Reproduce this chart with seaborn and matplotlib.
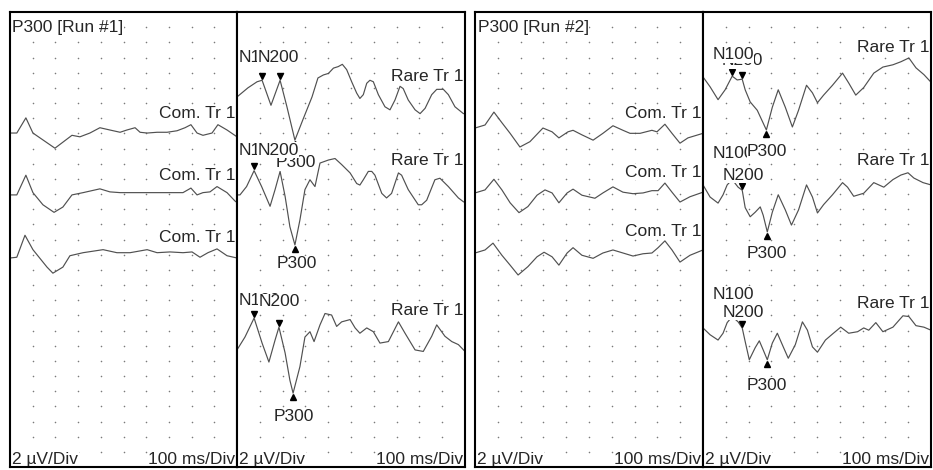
import numpy as np
import pandas as pd
import matplotlib
matplotlib.use("Agg")
import matplotlib.pyplot as plt
import seaborn as sns

# ---------------- data (time in ms, amplitude in µV; positive is drawn downward) -------------
# Run 1 - common (frequent) trials
r1_com1_t = [0, 30, 70, 101, 198, 273, 308, 352, 396, 440, 485, 515, 551, 573, 604, 648, 692, 736, 771, 797, 824, 850, 890, 916, 956, 1000]
r1_com1_v = [0, 0, -2.0, 0, 2.0, 0.3, 0.5, 0, -0.7, -0.4, -0.1, -0.4, -0.7, -0.1, 0, -0.1, -0.1, -0.3, -0.7, -1.1, 0, 0.3, 0, -1.1, -0.4, 0.5]
r1_com2_t = [0, 30, 70, 101, 145, 194, 233, 273, 322, 396, 440, 485, 542, 586, 648, 705, 762, 797, 824, 850, 881, 912, 956, 991, 1000]
r1_com2_v = [0, 0, -2.6, -0.3, 1.3, 2.3, 1.6, 0, -0.3, -0.8, -0.4, -0.3, -0.3, -0.3, -0.3, -0.3, -0.3, -0.9, 0, -0.3, -0.4, -1.1, -0.3, 0.8, 1.0]
r1_com3_t = [0, 30, 66, 101, 163, 189, 233, 264, 322, 410, 471, 529, 604, 648, 705, 762, 802, 837, 872, 912, 956, 1000]
r1_com3_v = [0.4, 0.3, -2.6, -0.7, 1.6, 2.4, 1.6, 0.1, -0.3, -0.7, -0.3, -0.3, -0.7, -0.3, -0.4, -0.3, -0.4, 0.3, -0.3, -0.8, 0.1, 0.4]
# Run 1 - rare (target) trials
r1_rare1_t = [0, 48, 88, 110, 149, 189, 219, 254, 289, 329, 355, 379, 401, 423, 444, 462, 481, 503, 525, 539, 554, 569, 583, 598, 620, 649, 671, 693, 715, 729, 751, 781, 803, 825, 854, 876, 905, 927, 956, 993, 1000]
r1_rare1_v = [0, -1.2, -2.0, -2.2, 1.1, -2.2, 1.3, 5.7, 3.0, 0, -2.5, -2.9, -3.1, -3.8, -4.0, -4.3, -3.6, -2.0, -0.5, 0.2, -0.3, -1.8, -2.2, -2.0, -0.3, 1.3, 1.7, 0.4, -1.4, -1.1, 0.4, 1.7, 2.2, 1.5, -0.3, -1.0, -1.0, -0.3, 1.3, 2.2, 2.2]
r1_rare2_t = [0, 13, 42, 75, 108, 145, 167, 189, 211, 232, 254, 276, 298, 320, 342, 364, 401, 430, 459, 496, 525, 539, 554, 576, 591, 605, 635, 656, 678, 708, 722, 751, 795, 810, 832, 868, 890, 927, 971, 993, 1000]
r1_rare2_v = [0, 0, -1.1, -3.2, -1.1, 1.5, -0.7, -3.1, 0.2, 4.2, 6.6, 3.3, -0.7, -2.0, -1.1, -4.2, -4.6, -4.8, -4.0, -2.9, -1.5, -1.3, -2.0, -3.1, -3.1, -2.6, -0.2, 0.4, -0.2, -2.9, -2.6, -0.7, 1.3, 1.3, 0.7, -2.0, -2.2, -1.1, 0.4, 0.9, 1.0]
r1_rare3_t = [0, 35, 75, 110, 140, 167, 184, 211, 232, 246, 276, 298, 320, 338, 364, 386, 415, 437, 459, 496, 518, 539, 569, 598, 627, 664, 708, 737, 781, 817, 854, 876, 912, 942, 971, 1000]
r1_rare3_v = [0, -1.7, -4.2, -0.9, 1.6, -1.3, -3.0, 0.4, 4.0, 5.7, 2.2, -1.7, -2.4, -1.1, -3.3, -4.8, -4.6, -3.1, -3.7, -4.0, -2.9, -2.2, -2.9, -2.4, -0.9, -1.1, -3.7, -2.2, 0, 0.2, -1.8, -3.3, -1.8, -1.1, -0.7, 0.2]
# Run 2 - common trials
r2_com1_t = [0, 44, 83, 118, 154, 197, 241, 298, 338, 368, 408, 430, 469, 518, 561, 605, 649, 680, 724, 776, 798, 833, 864, 899, 934, 1000]
r2_com1_v = [0, -0.4, -2.1, -0.7, 0.7, 2.5, 1.8, 0, 0.5, 1.3, 0.5, 0.3, 0.9, 1.6, 0.7, -0.3, 0.3, 0.7, 0.7, 0.3, 0.5, -0.5, 0.7, 2.0, 1.3, 0.7]
r2_com2_t = [0, 44, 83, 118, 154, 193, 232, 272, 307, 338, 368, 404, 430, 469, 526, 561, 605, 649, 693, 737, 776, 803, 833, 864, 899, 943, 1000]
r2_com2_v = [0, -0.4, -1.8, -0.4, 1.3, 2.6, 1.8, 0.3, -0.4, 0, 1.3, 0, -0.5, 0.3, 0.7, 0, -0.8, -0.1, 0.1, 0, -0.3, -0.3, -1.3, -0.1, 1.2, 0.5, -0.1]
r2_com3_t = [0, 44, 79, 118, 154, 189, 232, 272, 303, 338, 368, 404, 430, 469, 518, 561, 605, 649, 693, 737, 776, 803, 833, 864, 899, 943, 1000]
r2_com3_v = [0, -0.4, -1.3, 0.3, 1.6, 2.9, 1.8, 0.5, -0.1, 0.5, 1.6, 0, -0.7, 0.3, 0.7, 0, -0.4, 0, 0.4, 0.1, 0, -0.7, -1.6, -0.4, 1.2, 0.3, -0.4]
# Run 2 - rare trials
r2_rare1_t = [0, 31, 66, 97, 128, 150, 172, 185, 207, 238, 278, 304, 330, 361, 392, 419, 454, 480, 502, 529, 568, 612, 639, 670, 705, 749, 789, 833, 868, 903, 934, 969, 1000]
r2_rare1_v = [0, 1.3, 3.0, 1.7, -0.1, 0.4, 0.3, 1.7, 3.3, 4.4, 7.0, 4.0, 1.7, 4.0, 6.6, 4.4, 1.1, 2.1, 3.4, 2.4, 1.1, -0.5, 0.8, 2.4, 1.4, -0.5, -1.3, -1.6, -2.0, -2.5, -1.2, -0.3, 0.7]
r2_rare2_t = [0, 31, 66, 88, 106, 128, 154, 172, 185, 207, 229, 251, 264, 282, 304, 330, 361, 388, 419, 454, 480, 502, 529, 568, 612, 634, 661, 705, 749, 793, 833, 868, 899, 925, 965, 1000]
r2_rare2_v = [0, 1.6, 2.4, 1.3, 0, -0.7, 0.3, 0.7, 3.0, 4.2, 3.6, 2.9, 4.0, 6.2, 3.6, 1.3, 3.3, 5.3, 3.3, 0, 1.6, 3.7, 2.6, 1.3, -0.3, 0.3, 1.5, 1.1, -0.3, 0.3, -0.7, -1.3, -1.6, -0.9, -0.3, 0]
r2_rare3_t = [0, 31, 66, 88, 106, 128, 154, 172, 185, 203, 229, 247, 264, 282, 304, 326, 352, 374, 405, 436, 458, 480, 502, 537, 572, 604, 639, 678, 705, 727, 758, 789, 833, 877, 903, 934, 969, 1000]
r2_rare3_v = [0, 0.9, 1.6, 0.7, -0.7, -1.5, -0.8, 0, 1.8, 4.2, 2.6, 1.7, 2.9, 4.2, 2.0, 0.7, 2.5, 4.0, 2.2, -0.8, 0.3, 2.5, 3.2, 1.6, 0.7, -0.1, 0.7, 0.5, 0, 0.3, -0.7, 0.5, -0.1, -1.6, -1.5, -0.3, -0.1, 0.3]

# trace baselines (in divisions from the top of the panel)
r1_com_base = [7.98, 12.06, 16.02]
r1_rare_base = [5.60, 12.06, 22.28]
r2_com_base = [7.65, 11.93, 15.89]
r2_rare_base = [4.28, 11.40, 20.83]

# peak latencies (ms) for the rare traces: N100, N200, P300
peak_names = ["N100", "N200", "P300"]
r1_peaks = [[110, 189, 254], [75, 189, 254], [75, 184, 246]]
r2_peaks = [[128, 172, 278], [128, 172, 282], [128, 172, 282]]

run_titles = ["P300 [Run #1]", "P300 [Run #2]"]
com_label = "Com. Tr 1"
rare_label = "Rare Tr 1"
amp_scale_text = "2 µV/Div"
time_scale_text = "100 ms/Div"

# ---------------- layout / style -------------------------------------------------------------
UV_PER_DIV = 2
N_XDIV, N_YDIV = 10, 30
SPAN_MS = 1000
FS = 12.5
LINE_COLOR = "#505050"

# trace-name label rows (divisions) and peak-label placements (ms, divisions)
r1_com_lab_y = [6.72, 10.75, 14.9]
r1_rare_lab_y = [4.22, 9.82, 19.7]
r2_com_lab_y = [6.66, 10.55, 14.44]
r2_rare_lab_y = [2.37, 9.76, 19.2]
r1_peak_lab = [[(100, 2.97), (180, 2.97), (259, 9.95)],
               [(100, 9.1), (180, 9.1), (263, 16.6)],
               [(100, 19.05), (185, 19.1), (250, 26.7)]]
r2_peak_lab = [[(132, 2.83), (172, 3.23), (282, 9.23)],
               [(132, 9.36), (176, 10.75), (282, 15.95)],
               [(132, 18.6), (176, 19.8), (282, 24.6)]]
r1_lab_z = {"N100": 4, "P300": 5, "N200": 6}
r2_lab_z = {"N200": 4, "N100": 5, "P300": 6}

sns.set_style("white")
plt.rcParams["font.family"] = ["Liberation Sans", "DejaVu Sans"]

FIG_W, FIG_H = 933, 470
fig = plt.figure(figsize=(FIG_W / 100, FIG_H / 100), dpi=100)
TOP, BOT = 12, 467


def px_axes(x0, x1):
    return fig.add_axes([x0 / FIG_W, 1 - BOT / FIG_H, (x1 - x0) / FIG_W, (BOT - TOP) / FIG_H])


def setup(ax):
    ax.set_xlim(0, SPAN_MS)
    ax.set_ylim(N_YDIV * UV_PER_DIV, 0)
    ax.set_xticks([])
    ax.set_yticks([])
    for s in ax.spines.values():
        s.set_visible(True)
        s.set_color("black")
        s.set_linewidth(1.5)
        s.set_zorder(20)
    gx, gy = np.meshgrid(np.arange(1, N_XDIV) * SPAN_MS / N_XDIV,
                         np.arange(1, N_YDIV) * UV_PER_DIV)
    ax.scatter(gx.ravel(), gy.ravel(), s=1.3, c="#7a7a7a", linewidths=0, zorder=1)
    box = dict(fc="white", ec="none", pad=0.4)
    ax.text(9, 29.5 * UV_PER_DIV, amp_scale_text, ha="left", va="center", fontsize=FS,
            bbox=box, zorder=8)
    ax.text(992, 29.5 * UV_PER_DIV, time_scale_text, ha="right", va="center", fontsize=FS,
            bbox=box, zorder=8)


def draw_trace(ax, t, v, base):
    df = pd.DataFrame({"t": t, "y": np.asarray(v, float) + base * UV_PER_DIV})
    sns.lineplot(data=df, x="t", y="y", ax=ax, color=LINE_COLOR, linewidth=0.85,
                 estimator=None, sort=False, zorder=2)
    ax.set_xlabel("")
    ax.set_ylabel("")


def label(ax, x, ydiv, s, ha="center", z=5):
    ax.text(x, ydiv * UV_PER_DIV, s, ha=ha, va="center", fontsize=FS, zorder=z,
            bbox=dict(fc="white", ec="none", pad=0.4), clip_on=True)


runs = [
    dict(xs=(10, 237, 465), title=run_titles[0],
         com=[(r1_com1_t, r1_com1_v), (r1_com2_t, r1_com2_v), (r1_com3_t, r1_com3_v)],
         rare=[(r1_rare1_t, r1_rare1_v), (r1_rare2_t, r1_rare2_v), (r1_rare3_t, r1_rare3_v)],
         com_base=r1_com_base, rare_base=r1_rare_base, com_lab=r1_com_lab_y, rare_lab=r1_rare_lab_y,
         peaks=r1_peaks, peak_lab=r1_peak_lab, lab_z=r1_lab_z),
    dict(xs=(475, 703, 931), title=run_titles[1],
         com=[(r2_com1_t, r2_com1_v), (r2_com2_t, r2_com2_v), (r2_com3_t, r2_com3_v)],
         rare=[(r2_rare1_t, r2_rare1_v), (r2_rare2_t, r2_rare2_v), (r2_rare3_t, r2_rare3_v)],
         com_base=r2_com_base, rare_base=r2_rare_base, com_lab=r2_com_lab_y, rare_lab=r2_rare_lab_y,
         peaks=r2_peaks, peak_lab=r2_peak_lab, lab_z=r2_lab_z),
]

MARK_OFF = 0.55  # µV gap between peak and its marker
for run in runs:
    x0, xm, x1 = run["xs"]
    ax_c = px_axes(x0, xm)
    ax_r = px_axes(xm, x1)
    setup(ax_c)
    setup(ax_r)
    label(ax_c, 11, 1.0, run["title"], ha="left", z=8)
    for (t, v), b, ly in zip(run["com"], run["com_base"], run["com_lab"]):
        draw_trace(ax_c, t, v, b)
        label(ax_c, 992, ly, com_label, ha="right", z=7)
    for i, ((t, v), b, ly) in enumerate(zip(run["rare"], run["rare_base"], run["rare_lab"])):
        draw_trace(ax_r, t, v, b)
        label(ax_r, 992, ly, rare_label, ha="right", z=7)
        for name, tp, (lx, lyd) in zip(peak_names, run["peaks"][i], run["peak_lab"][i]):
            yp = np.interp(tp, t, v) + b * UV_PER_DIV
            if name.startswith("N"):
                ax_r.plot([tp], [yp - MARK_OFF], ls="none", marker="v", ms=4.2,
                          color="black", zorder=3)
            else:
                ax_r.plot([tp], [yp + MARK_OFF], ls="none", marker="^", ms=4.2,
                          color="black", zorder=3)
            label(ax_r, lx, lyd, name, z=run["lab_z"][name])

fig.savefig("out.png", dpi=100)
